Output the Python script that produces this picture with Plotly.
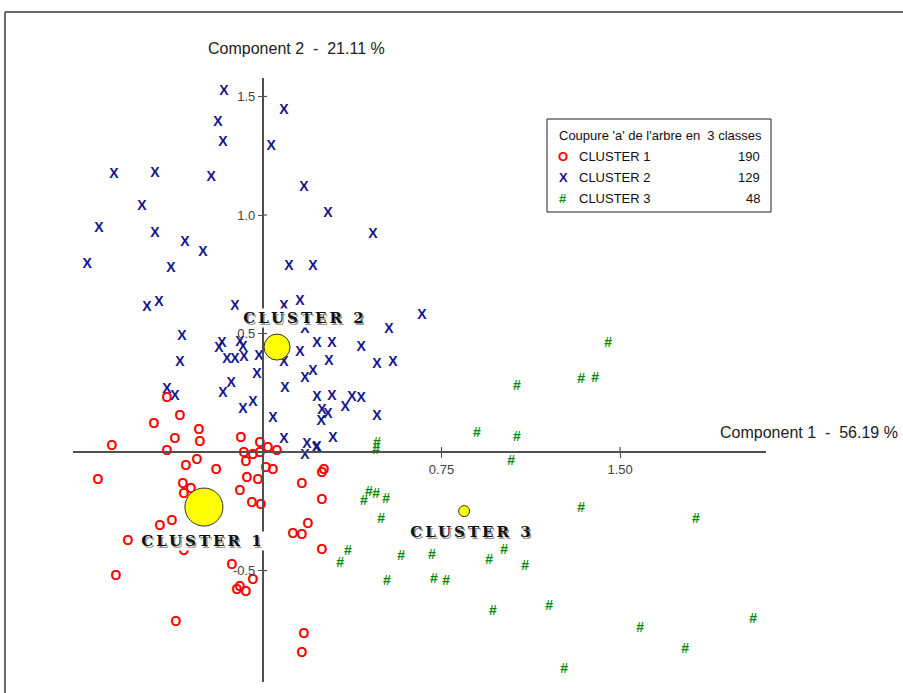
import plotly.graph_objects as go

# ---------------- data ----------------
cluster_names = ["CLUSTER 1", "CLUSTER 2", "CLUSTER 3"]
cluster_counts = [190, 129, 48]
cluster_glyphs = ["O", "X", "#"]
legend_title = "Coupure 'a' de l'arbre en  3 classes"
x_title = "Component 1  -  56.19 %"
y_title = "Component 2  -  21.11 %"

x_tickvals = [0.75, 1.50]
x_ticktext = ["0.75", "1.50"]
y_tickvals = [-0.5, 0.5, 1.0, 1.5]
y_ticktext = ["-0.5", "0.5", "1.0", "1.5"]

c1_x = [-0.403, -0.349, -0.458, -0.269, -0.265, -0.370, -0.634, -0.403, -0.092, -0.013,
        -0.080, -0.042, -0.013, 0.021, 0.059, -0.324, -0.277, -0.197, -0.071, 0.013,
        0.042, -0.693, -0.336, -0.303, -0.067, -0.021, -0.332, -0.097, -0.046, -0.008,
        0.164, 0.248, 0.256, 0.248, -0.433, -0.382, -0.567, -0.332, 0.126, 0.164,
        0.189, 0.248, -0.130, -0.042, -0.097, -0.109, -0.071, -0.618, -0.366, 0.172, 0.164]
c1_y = [0.224, 0.148, 0.118, 0.089, 0.042, 0.051, 0.025, 0.004, 0.059, 0.038,
        -0.008, -0.013, -0.008, 0.013, 0.004, -0.059, -0.034, -0.076, -0.046, -0.068,
        -0.076, -0.122, -0.135, -0.160, -0.110, -0.118, -0.181, -0.165, -0.215, -0.224,
        -0.135, -0.089, -0.076, -0.203, -0.312, -0.291, -0.376, -0.418, -0.346, -0.350,
        -0.304, -0.414, -0.477, -0.540, -0.570, -0.586, -0.591, -0.523, -0.717, -0.768, -0.848]

c2_x = [-0.164, 0.088, -0.189, -0.168, 0.034, -0.626, -0.454, -0.218, 0.172, -0.508,
        0.273, 0.462, -0.689, -0.454, -0.328, -0.252, -0.739, -0.387, 0.109, 0.210,
        -0.487, -0.437, -0.118, 0.155, 0.088, 0.668, 0.529, 0.176, 0.227, 0.290,
        0.412, 0.155, 0.088, 0.277, 0.479, 0.546, 0.176, 0.210, 0.092, 0.227,
        0.290, 0.374, 0.412, 0.248, 0.273, 0.244, 0.345, 0.479, 0.042, 0.088,
        0.185, 0.227, 0.294, -0.340, -0.172, -0.185, -0.097, -0.084, -0.151, -0.118,
        -0.080, -0.017, -0.349, -0.025, -0.403, -0.370, -0.168, -0.134, -0.084, -0.042,
        0.176, 0.223]
c2_y = [1.523, 1.439, 1.392, 1.304, 1.291, 1.169, 1.177, 1.160, 1.118, 1.034,
        1.008, 0.916, 0.945, 0.920, 0.882, 0.840, 0.793, 0.776, 0.781, 0.781,
        0.608, 0.633, 0.612, 0.637, 0.612, 0.578, 0.515, 0.515, 0.460, 0.460,
        0.443, 0.418, 0.376, 0.380, 0.371, 0.376, 0.312, 0.338, 0.270, 0.232,
        0.236, 0.232, 0.224, 0.177, 0.160, 0.127, 0.186, 0.152, 0.143, 0.051,
        0.030, 0.021, 0.059, 0.489, 0.460, 0.439, 0.464, 0.443, 0.392, 0.392,
        0.397, 0.405, 0.376, 0.329, 0.266, 0.236, 0.245, 0.291, 0.181, 0.207,
        -0.013, 0.017]

c3_x = [1.450, 1.336, 1.395, 1.067, 0.899, 1.067, 1.042, 1.336, 1.819, 1.013,
        0.950, 1.101, 0.966, 1.202, 1.584, 2.059, 1.773, 1.265, 0.479, 0.475,
        0.445, 0.475, 0.517, 0.424, 0.496, 0.357, 0.324, 0.580, 0.710, 0.521,
        0.718, 0.769]
c3_y = [0.460, 0.308, 0.312, 0.278, 0.080, 0.063, -0.038, -0.236, -0.283, -0.414,
        -0.456, -0.481, -0.671, -0.650, -0.743, -0.705, -0.831, -0.916, 0.038, 0.008,
        -0.169, -0.177, -0.198, -0.207, -0.283, -0.418, -0.468, -0.439, -0.435, -0.544,
        -0.536, -0.544]

centroid_x = [-0.248, 0.059, 0.845]
centroid_y = [-0.232, 0.443, -0.249]
label_x = [-0.252, 0.176, 0.878]
label_y = [-0.376, 0.565, -0.338]

# ---------------- styles / geometry ----------------
W, H = 903, 693
ML, MR, MT, MB = 73, 137, 78, 11
x_range = [-0.798, 2.113]
y_range = [-0.970, 1.578]
colors = ["#ff0000", "#14148a", "#0a8a0a"]
centroid_sizes = [38, 26, 11]
axis_col = "#505050"
SANS = "Liberation Sans"


def pxx(x):
    return (x - ML) / (W - ML - MR)


def pxy(y):
    return (H - MB - y) / (H - MT - MB)


fig = go.Figure()
for xs, ys, g, c, n in zip([c1_x, c2_x, c3_x], [c1_y, c2_y, c3_y],
                           cluster_glyphs, colors, cluster_names):
    fig.add_trace(go.Scatter(
        x=xs, y=ys, mode="text", text=[g] * len(xs), name=n,
        textposition="middle center", hoverinfo="skip",
        textfont=dict(family=SANS, size=14, color=c, weight="bold"),
        cliponaxis=False,
    ))

fig.add_trace(go.Scatter(
    x=centroid_x, y=centroid_y, mode="markers", hoverinfo="skip", opacity=1,
    marker=dict(size=centroid_sizes, color="#ffff00", opacity=1,
                line=dict(color="#303030", width=1)),
    cliponaxis=False,
))

xpos = (0 - y_range[0]) / (y_range[1] - y_range[0])
ypos = (0 - x_range[0]) / (x_range[1] - x_range[0])

annotations = []
shapes = []

# cluster labels (white background hides the points behind them)
for lx, ly, n in zip(label_x, label_y, cluster_names):
    annotations.append(dict(x=lx, y=ly, xref="x", yref="y", text=n, showarrow=False,
                            xanchor="center", yanchor="middle", bgcolor="white",
                            width=130, height=16,
                            font=dict(family="DejaVu Serif", size=15, color="#111111",
                                      weight="bold")))


def pann(x, y, text, size, color, xanchor="center", weight="normal"):
    return dict(x=pxx(x), y=pxy(y), xref="paper", yref="paper", text=text,
                showarrow=False, xanchor=xanchor, yanchor="middle",
                font=dict(family=SANS, size=size, color=color, weight=weight))


# axis titles
annotations.append(pann(296, 48, y_title, 16, "#202020"))
annotations.append(pann(809, 432, x_title, 16, "#202020"))

# legend box
shapes.append(dict(type="rect", xref="paper", yref="paper", x0=pxx(547), x1=pxx(771),
                   y0=pxy(212), y1=pxy(119), line=dict(color="#202020", width=1),
                   fillcolor="white", layer="below"))
annotations.append(pann(557, 135, legend_title, 13, "#101010", xanchor="left"))
row_y = [156, 177, 198]
for ry, g, c, n, k in zip(row_y, cluster_glyphs, colors, cluster_names, cluster_counts):
    annotations.append(pann(563, ry, g, 13, c, weight="bold"))
    annotations.append(pann(577, ry, n, 13, "#101010", xanchor="left"))
    annotations.append(pann(762, ry, str(k), 13, "#101010", xanchor="right"))

# upper/right halves of tick marks (crossing ticks)
dy = 5 * (y_range[1] - y_range[0]) / (H - MT - MB)
dx = 4 * (x_range[1] - x_range[0]) / (W - ML - MR)
for v in x_tickvals:
    shapes.append(dict(type="line", xref="x", yref="y", x0=v, x1=v, y0=0, y1=dy,
                       line=dict(color=axis_col, width=1.2)))
for v in y_tickvals:
    shapes.append(dict(type="line", xref="x", yref="y", x0=0, x1=dx, y0=v, y1=v,
                       line=dict(color=axis_col, width=1.2)))

# outer frame
shapes.append(dict(type="line", xref="paper", yref="paper", x0=pxx(5), x1=pxx(W + 20),
                   y0=pxy(12), y1=pxy(12), line=dict(color="#6a6a6a", width=2)))
shapes.append(dict(type="line", xref="paper", yref="paper", x0=pxx(5), x1=pxx(5),
                   y0=pxy(12), y1=pxy(H + 20), line=dict(color="#6a6a6a", width=2)))

fig.update_layout(
    width=W, height=H, margin=dict(l=ML, r=MR, t=MT, b=MB, pad=0),
    paper_bgcolor="white", plot_bgcolor="white", showlegend=False,
    annotations=annotations, shapes=shapes,
    xaxis=dict(range=x_range, anchor="free", position=xpos, showline=True,
               linecolor=axis_col, linewidth=2, showgrid=False, zeroline=False,
               tickvals=x_tickvals, ticktext=x_ticktext, ticks="outside", ticklen=5,
               tickcolor=axis_col, tickwidth=1.2,
               tickfont=dict(family=SANS, size=13, color="#404040")),
    yaxis=dict(range=y_range, anchor="free", position=ypos, showline=True,
               linecolor=axis_col, linewidth=2, showgrid=False, zeroline=False,
               tickvals=y_tickvals, ticktext=y_ticktext, ticks="outside", ticklen=4,
               tickcolor=axis_col, tickwidth=1.2,
               tickfont=dict(family=SANS, size=13, color="#404040")),
)

post = """
document.body.style.margin='0';
document.body.style.overflow='hidden';
var gd=document.getElementById('{plot_id}');
gd.querySelectorAll('g.annotation text').forEach(function(t){
  if ((t.style.fontFamily||'').indexOf('Serif')>=0) {
    t.style.letterSpacing='3px';
    t.style.textShadow='1.5px 1.5px 0 #9a9a9a';
  }
});
"""
fig.write_html("out.html", post_script=post, config={"displayModeBar": False})
